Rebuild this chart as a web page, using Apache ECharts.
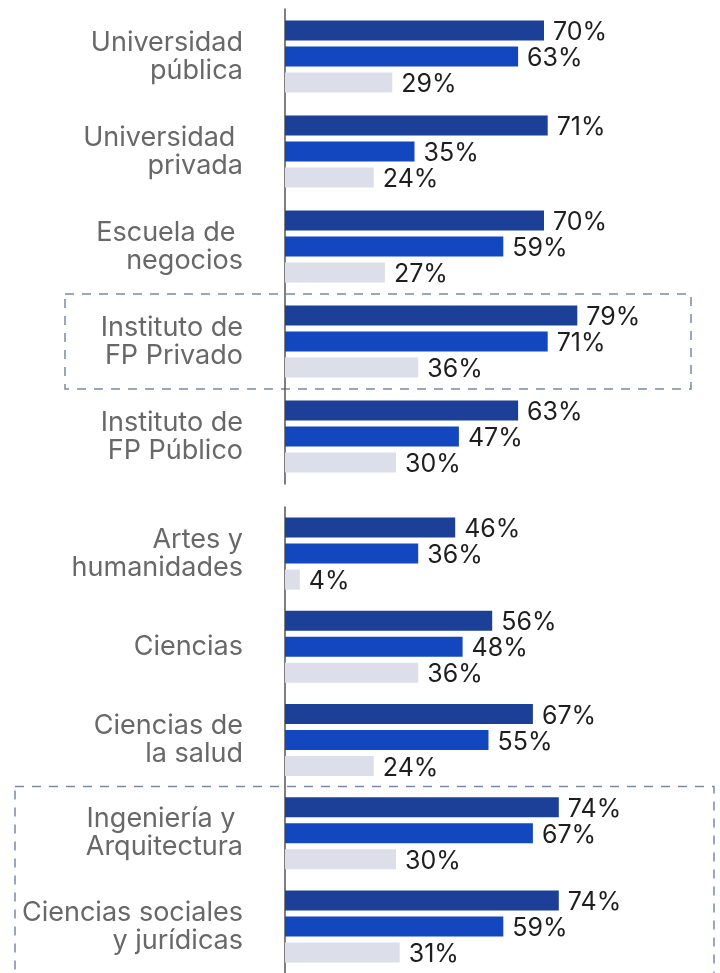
<!DOCTYPE html>
<html>
<head>
<meta charset="utf-8">
<script src="https://cdn.jsdelivr.net/npm/echarts@6/dist/echarts.min.js"></script>
<style>
html,body{margin:0;padding:0;background:#fff;}
#chart{width:720px;height:973px;}
</style>
</head>
<body>
<div id="chart"></div>
<script>
// Data
var catsTop = ['Universidad\npública', 'Universidad \nprivada', 'Escuela de \nnegocios', 'Instituto de\nFP Privado', 'Instituto de\nFP Público'];
var catsBottom = ['Artes y\nhumanidades', 'Ciencias', 'Ciencias de\nla salud', 'Ingeniería y \nArquitectura', 'Ciencias sociales\ny jurídicas'];
var serie1Top = [70, 71, 70, 79, 63];
var serie2Top = [63, 35, 59, 71, 47];
var serie3Top = [29, 24, 27, 36, 30];
var serie1Bottom = [46, 56, 67, 74, 74];
var serie2Bottom = [36, 48, 55, 67, 59];
var serie3Bottom = [4, 36, 24, 30, 31];
var highlightTop = 3;     // Instituto de FP Privado
var highlightBottom = 3;  // Ingeniería y Arquitectura (box continues below)

var colors = ['#1c3f98', '#1347c0', '#dcdfea'];
var FONT = 'Inter, "Noto Sans", sans-serif';

var chart = echarts.init(document.getElementById('chart'));

function yAx(idx, cats) {
  return {
    type: 'category', gridIndex: idx, data: cats, inverse: true,
    axisLine: {show: true, lineStyle: {color: '#555', width: 1.5}},
    axisTick: {show: false},
    axisLabel: {fontSize: 27, color: '#686868', lineHeight: 28, margin: 42, fontFamily: FONT, align: 'right'},
    splitLine: {show: false}
  };
}
function xAx(idx) {
  return {type: 'value', gridIndex: idx, min: 0, max: 100, show: false, splitLine: {show: false}};
}
function bar(idx, data, color) {
  return {
    type: 'bar', xAxisIndex: idx, yAxisIndex: idx, data: data,
    barWidth: 20, barGap: '30%',
    itemStyle: {color: color},
    label: {show: true, position: 'right', distance: 9, offset: [0, 2], formatter: '{c}%', fontSize: 25, color: '#1e1e1e', fontFamily: FONT},
    animation: false
  };
}

chart.setOption({
  backgroundColor: '#fff',
  animation: false,
  grid: [
    {left: 285, top: 9, width: 370, height: 475},
    {left: 285, top: 507, width: 370, height: 475}
  ],
  xAxis: [xAx(0), xAx(1)],
  yAxis: [yAx(0, catsTop), yAx(1, catsBottom)],
  series: [
    bar(0, serie1Top, colors[0]), bar(0, serie2Top, colors[1]), bar(0, serie3Top, colors[2]),
    bar(1, serie1Bottom, colors[0]), bar(1, serie2Bottom, colors[1]), bar(1, serie3Bottom, colors[2])
  ]
});

function bandOf(axisIdx, i) {
  var c0 = chart.convertToPixel({yAxisIndex: axisIdx}, 0);
  var c1 = chart.convertToPixel({yAxisIndex: axisIdx}, 1);
  var bw = Math.abs(c1 - c0);
  var c = chart.convertToPixel({yAxisIndex: axisIdx}, i);
  return [c - bw / 2, c + bw / 2];
}
var b1 = bandOf(0, highlightTop);
var b2 = bandOf(1, highlightBottom);
var dashStyle = {fill: 'none', stroke: '#7c88aa', lineWidth: 1.5, lineDash: [9, 8]};
chart.setOption({
  graphic: [
    {type: 'rect', silent: true, z: 0, shape: {x: 65, y: b1[0], width: 626, height: b1[1] - b1[0]}, style: dashStyle},
    {type: 'rect', silent: true, z: 0, shape: {x: 15, y: b2[0], width: 699, height: 200}, style: dashStyle}
  ]
});
</script>
</body>
</html>
